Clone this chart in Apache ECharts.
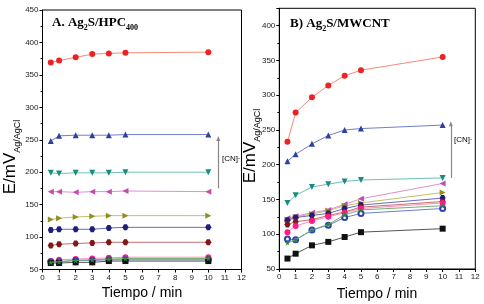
<!DOCTYPE html>
<html>
<head>
<meta charset="utf-8">
<script src="https://cdn.jsdelivr.net/npm/echarts@6/dist/echarts.min.js"></script>
<style>
  html, body { margin: 0; padding: 0; background: #fff; }
  #container { width: 484px; height: 304px; }
</style>
</head>
<body>
<div id="container"></div>
<script>
// tiempo (min)
var tiempo = [0.5, 1, 2, 3, 4, 5, 10];

// A. Ag2S/HPC400  (E / mV vs Ag/AgCl)
var hpcRojo      = [369, 372, 377, 382, 383, 384, 385];
var hpcAzul      = [248, 256, 257, 257, 257, 258, 258];
var hpcTurquesa  = [199, 198, 199, 199, 199, 200, 200];
var hpcMagenta   = [170, 170, 169, 170, 170, 171, 170];
var hpcOliva     = [127, 129, 131, 132, 133, 133, 133];
var hpcMarino    = [111, 112, 112, 112, 114, 115, 115];
var hpcGranate   = [87, 89, 90, 91, 92, 92, 92];
var hpcRosa      = [63, 65, 66, 67, 68, 69, 69];
var hpcVerde     = [61, 62, 64, 65, 66, 67, 67];
var hpcCirculo   = [62, 62, 64, 64, 65, 65, 65];
var hpcNegro     = [60, 60, 61, 61, 63, 63, 63];

// B) Ag2S/MWCNT
var mwRojo       = [233, 275, 297, 314, 328, 336, 355];
var mwAzul       = [205, 215, 230, 242, 250, 252, 257];
var mwTurquesa   = [145, 156, 168, 172, 176, 178, 181];
var mwMagenta    = [123, 126, 131, 135, 143, 151, 173];
var mwOliva      = [121, 125, 129, 134, 141, 145, 160];
var mwMarino     = [120, 124, 127, 130, 137, 142, 152];
var mwGranate    = [114, 118, 121, 127, 132, 139, 147];
var mwRosa       = [103, 112, 119, 125, 131, 137, 145];
var mwVerde      = [88, 92, 106, 114, 128, 135, 141];
var mwCirculo    = [93, 92, 106, 113, 124, 130, 137];
var mwNegro      = [65, 72, 84, 89, 96, 103, 108];

var xTicks = [0, 12, 1];   // min, max, interval
var hpcY = [50, 450, 50];
var mwY = [50, 425, 50];

// arrow "[CN-]" in data units: x, from, to
var flechaHpc = [10.6, 175, 252];
var flechaMw = [10.5, 181, 259];

var estrella = 'path://M50,0 L61,35 L98,35 L68,57 L79,91 L50,70 L21,91 L32,57 L2,35 L39,35 Z';
var hexagono = 'path://M25,0 L75,0 L100,50 L75,100 L25,100 L0,50 Z';

// marker / line styles, same order as the data
var estilos = [
	{ c: '#ee2222', l: '#f58a7a', s: 'circle', r: 0, z: 6 },
	{ c: '#2e3fa0', l: '#7080cc', s: 'triangle', r: 0, z: 6 },
	{ c: '#178c80', l: '#70c0b8', s: 'triangle', r: 180, z: 6 },
	{ c: '#c24ab0', l: '#de90d0', s: 'triangle', r: 90, z: 6 },
	{ c: '#8f8f1e', l: '#c0c070', s: 'triangle', r: -90, z: 6 },
	{ c: '#1e1e80', l: '#6a6ac0', s: hexagono, r: 0, z: 6 },
	{ c: '#801818', l: '#c07070', s: hexagono, r: 0, z: 6 },
	{ c: '#ff1a8c', l: '#ff90c0', s: 'circle', r: 0, z: 6 },
	{ c: '#2a8a3a', l: '#70b070', s: estrella, r: 0, z: 7 },
	{ c: '#3040b0', l: '#7080cc', s: 'emptyCircle', r: 0, z: 6 },
	{ c: '#111111', l: '#555555', s: 'rect', r: 0, z: 6 }
];

function pares( valores ) {
	return tiempo.map( function( t, i ) { return [ t, valores[i] ]; } );
}

function buildSeries( lista, idx, flecha ) {
	return lista.map( function( valores, k ) {
		var e = estilos[k];
		var s = {
			type: 'line',
			xAxisIndex: idx,
			yAxisIndex: idx,
			data: pares( valores ),
			symbol: e.s,
			symbolRotate: e.r,
			symbolSize: e.s === 'emptyCircle' ? 5 : 6,
			showAllSymbol: true,
			z: e.z,
			lineStyle: { color: e.l, width: 1 },
			itemStyle: { color: e.c, borderColor: e.c, borderWidth: e.s === 'emptyCircle' ? 2 : 0 },
			emphasis: { disabled: true },
			animation: false
		};
		if ( k === 0 ) {
			s.markLine = {
				silent: true,
				symbol: [ 'none', 'triangle' ],
				symbolSize: [ 4, 5 ],
				label: { show: false },
				lineStyle: { color: '#888', width: 1.2, type: 'solid' },
				itemStyle: { color: '#222' },
				data: [ [ { coord: [ flecha[0], flecha[1] ] }, { coord: [ flecha[0], flecha[2] ] } ] ],
				animation: false
			};
		}
		return s;
	} );
}

var hpcSeries = [ hpcRojo, hpcAzul, hpcTurquesa, hpcMagenta, hpcOliva, hpcMarino,
	hpcGranate, hpcRosa, hpcVerde, hpcCirculo, hpcNegro ];
var mwSeries = [ mwRojo, mwAzul, mwTurquesa, mwMagenta, mwOliva, mwMarino,
	mwGranate, mwRosa, mwVerde, mwCirculo, mwNegro ];

function xAxis( idx ) {
	return {
		type: 'value', gridIndex: idx,
		min: xTicks[0], max: xTicks[1], interval: xTicks[2],
		axisLine: { lineStyle: { color: '#000', width: 1 } },
		axisTick: { inside: false, length: 3, lineStyle: { color: '#000' } },
		axisLabel: { fontSize: 8, color: '#222', fontFamily: 'Liberation Sans', margin: 4 },
		splitLine: { show: false }
	};
}
function yAxis( idx, rng ) {
	return {
		type: 'value', gridIndex: idx,
		min: rng[0], max: rng[1], interval: rng[2],
		axisLine: { show: true, lineStyle: { color: '#000', width: 1 } },
		axisTick: { show: true, inside: false, length: 3, lineStyle: { color: '#000' } },
		minorTick: { show: true, splitNumber: 2, length: 2, lineStyle: { color: '#000' } },
		axisLabel: { fontSize: 8, color: '#222', fontFamily: 'Liberation Sans', margin: 4,
			showMaxLabel: rng[1] % rng[2] === 0 },
		splitLine: { show: false }
	};
}

var richTitulo = {
	m: { fontFamily: 'Liberation Serif', fontWeight: 'bold', fontSize: 13, color: '#000', lineHeight: 16, verticalAlign: 'bottom' },
	s: { fontFamily: 'Liberation Serif', fontWeight: 'bold', fontSize: 8, color: '#000', lineHeight: 10, verticalAlign: 'bottom', padding: [ 0, 0, -3, 0 ] }
};
var richEje = {
	m: { fontFamily: 'Liberation Sans', fontSize: 17, color: '#000', lineHeight: 20, verticalAlign: 'bottom' },
	s: { fontFamily: 'Liberation Sans', fontSize: 9, color: '#000', lineHeight: 12, verticalAlign: 'bottom', padding: [ 0, 0, -3, 0 ] }
};
var richCN = {
	m: { fontFamily: 'Liberation Sans', fontSize: 8, color: '#000' },
	p: { fontFamily: 'Liberation Sans', fontSize: 6, color: '#000', verticalAlign: 'top' }
};

var dom = document.getElementById( 'container' );
var myChart = echarts.init( dom, null, { renderer: 'canvas' } );

var option = {
	backgroundColor: '#fff',
	animation: false,
	grid: [
		{ left: 42.5, top: 10, width: 199, height: 259.5, show: true, borderColor: '#000', borderWidth: 1, backgroundColor: 'transparent' },
		{ left: 279.3, top: 8.3, width: 196, height: 260.7, show: true, borderColor: '#000', borderWidth: 1, backgroundColor: 'transparent' }
	],
	xAxis: [ xAxis( 0 ), xAxis( 1 ) ],
	yAxis: [ yAxis( 0, hpcY ), yAxis( 1, mwY ) ],
	series: buildSeries( hpcSeries, 0, flechaHpc ).concat( buildSeries( mwSeries, 1, flechaMw ) ),
	graphic: [
		{ type: 'text', left: 52, top: 16, silent: true,
			style: { text: '{m|A. Ag}{s|2}{m|S/HPC}{s|400}', rich: richTitulo } },
		{ type: 'text', left: 290, top: 17, silent: true,
			style: { text: '{m|B) Ag}{s|2}{m|S/MWCNT}', rich: richTitulo } },
		{ type: 'text', x: 9, y: 157, rotation: Math.PI / 2, silent: true,
			style: { text: '{m|E/mV}{s|Ag/AgCl}', rich: richEje, align: 'center', verticalAlign: 'middle' } },
		{ type: 'text', x: 249, y: 146, rotation: Math.PI / 2, silent: true,
			style: { text: '{m|E/mV}{s|Ag/AgCl}', rich: richEje, align: 'center', verticalAlign: 'middle' } },
		{ type: 'text', x: 142, y: 293, silent: true,
			style: { text: 'Tiempo / min', fontFamily: 'Liberation Sans', fontSize: 14, fill: '#000', align: 'center', verticalAlign: 'middle' } },
		{ type: 'text', x: 377, y: 294, silent: true,
			style: { text: 'Tiempo / min', fontFamily: 'Liberation Sans', fontSize: 14, fill: '#000', align: 'center', verticalAlign: 'middle' } },
		{ type: 'text', x: 222, y: 159, silent: true,
			style: { text: '{m|[CN]}{p|-}', rich: richCN, verticalAlign: 'middle' } },
		{ type: 'text', x: 454, y: 140, silent: true,
			style: { text: '{m|[CN]}{p|-}', rich: richCN, verticalAlign: 'middle' } }
	]
};

if ( option && typeof option === 'object' ) {
	myChart.setOption( option, true );
}
</script>
</body>
</html>
